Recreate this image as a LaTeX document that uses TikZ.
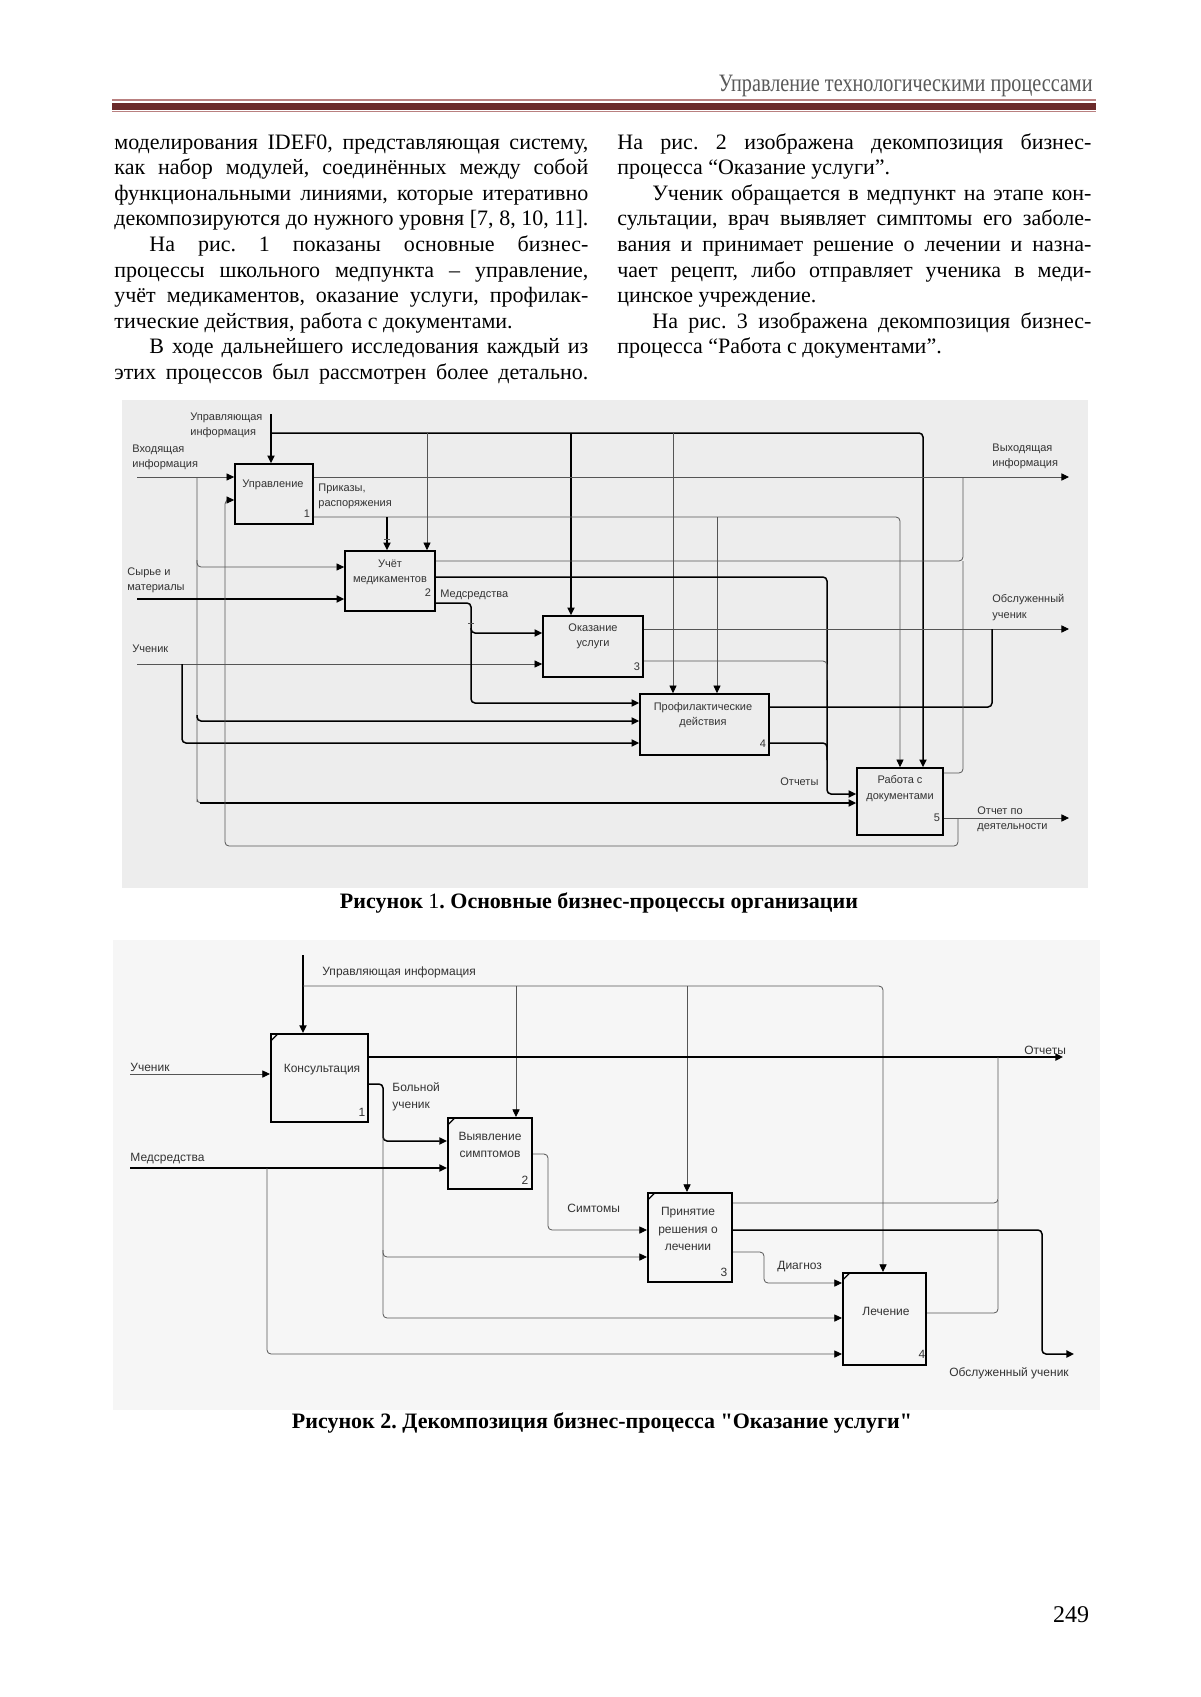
\documentclass[tikz,border=0pt]{standalone}
\usepackage{fontspec}
\usepackage{graphicx}
\setmainfont{Liberation Serif}
\newfontfamily\arialf{Liberation Sans}
\newfontfamily\capserif{Liberation Serif}
\usetikzlibrary{arrows.meta,calc}
\definecolor{maroon}{HTML}{6B2A2A}
\definecolor{maroonl}{HTML}{B98080}
\definecolor{bgone}{HTML}{EDEDED}
\definecolor{bgtwo}{HTML}{F6F6F6}
\definecolor{lngray}{HTML}{555555}
\newcommand\bodyfont{\fontsize{11}{12.8}\selectfont\frenchspacing}
\begin{document}
\frenchspacing
\begin{tikzpicture}[x=0.5pt,y=-0.5pt,
  bodyl/.style={anchor=base west,inner sep=0pt,font=\bodyfont},
  pbox/.style={draw=black,line width=0.9pt,inner sep=0pt},
  flbl/.style={font=\arialf\fontsize{5.5}{7.6}\selectfont,inner sep=0pt,align=left,text=black!80,anchor=west},
  clbl/.style={font=\arialf\fontsize{5.5}{7.6}\selectfont,inner sep=0pt,align=center,text=black!80},
  slbl/.style={font=\arialf\fontsize{6}{8.6}\selectfont,inner sep=0pt,align=left,text=black!80,anchor=west},
  sclbl/.style={font=\arialf\fontsize{6}{8.6}\selectfont,inner sep=0pt,align=center,text=black!80},
  tk/.style={draw=black,line width=0.75pt,rounded corners=2pt},
  tn/.style={draw=lngray,line width=0.4pt,rounded corners=2pt},
  arr/.style={-{Triangle[length=3.8pt,width=3.6pt,color=black]}},
]
\useasboundingbox (0,0) rectangle (1200,1697);
\fill[white] (0,0) rectangle (1200,1697);

% ---------- header ----------
\node[anchor=base east,inner sep=0pt,text=black!65] (hdr) at (1093,91)
  {\resizebox{187pt}{\height}{\fontsize{12.5}{13}\selectfont Управление технологическими процессами}};
\draw[maroonl,line width=0.7pt] (112,100) -- (1096,100);
\fill[maroon] (112,103) rectangle (1096,110);
\draw[maroonl,line width=0.4pt] (112,111.5) -- (1096,111.5);

% ---------- body text, left column ----------
\node[bodyl] (l1) at (114,149.0) {\makebox[237pt][s]{моделирования IDEF0, представляющая систему,}};
\node[bodyl] (l2) at (114,174.6) {\makebox[237pt][s]{как набор модулей, соединённых между собой}};
\node[bodyl] (l3) at (114,200.2) {\makebox[237pt][s]{функциональными линиями, которые итеративно}};
\node[bodyl] (l4) at (114,225.8) {\makebox[237pt][s]{декомпозируются до нужного уровня [7, 8, 10, 11].}};
\node[bodyl] (l5) at (149,251.4) {\makebox[219.5pt][s]{На рис. 1 показаны основные бизнес-}};
\node[bodyl] (l6) at (114,277.0) {\makebox[237pt][s]{процессы школьного медпункта – управление,}};
\node[bodyl] (l7) at (114,302.6) {\makebox[237pt][s]{учёт медикаментов, оказание услуги, профилак-}};
\node[bodyl] (l8) at (114,328.2) {тические действия, работа с документами.};
\node[bodyl] (l9) at (149,353.8) {\makebox[219.5pt][s]{В ходе дальнейшего исследования каждый из}};
\node[bodyl] (l10) at (114,379.4) {\makebox[237pt][s]{этих процессов был рассмотрен более детально.}};

% ---------- body text, right column ----------
\node[bodyl] (r1) at (617,149.0) {\makebox[237pt][s]{На рис. 2 изображена декомпозиция бизнес-}};
\node[bodyl] (r2) at (617,174.6) {процесса “Оказание услуги”.};
\node[bodyl] (r3) at (652,200.2) {\makebox[219.5pt][s]{Ученик обращается в медпункт на этапе кон-}};
\node[bodyl] (r4) at (617,225.8) {\makebox[237pt][s]{сультации, врач выявляет симптомы его заболе-}};
\node[bodyl] (r5) at (617,251.4) {\makebox[237pt][s]{вания и принимает решение о лечении и назна-}};
\node[bodyl] (r6) at (617,277.0) {\makebox[237pt][s]{чает рецепт, либо отправляет ученика в меди-}};
\node[bodyl] (r7) at (617,302.6) {цинское учреждение.};
\node[bodyl] (r8) at (652,328.2) {\makebox[219.5pt][s]{На рис. 3 изображена декомпозиция бизнес-}};
\node[bodyl] (r9) at (617,353.8) {процесса “Работа с документами”.};

% =================== FIGURE 1 ===================
\fill[bgone] (122,400) rectangle (1088,888);

\node[pbox,minimum width=39pt,minimum height=30pt] (b1) at (274,494) {};
\node[pbox,minimum width=45pt,minimum height=30pt] (b2) at (390,581) {};
\node[pbox,minimum width=50pt,minimum height=30.5pt] (b3) at (593,646.5) {};
\node[pbox,minimum width=64.5pt,minimum height=30.5pt] (b4) at (704.5,724.5) {};
\node[pbox,minimum width=43pt,minimum height=33.5pt] (b5) at (900,801.5) {};

\node[clbl] (b1t) at (273,485) {Управление};
\node[clbl] (b2t) at (390,572) {Учёт\\медикаментов};
\node[clbl] (b3t) at (593,636.5) {Оказание\\услуги};
\node[clbl] (b4t) at (703,715) {Профилактические\\действия};
\node[clbl] (b5t) at (900,788.5) {Работа с\\документами};
\node[clbl] (b1n) at (307,514) {1};
\node[clbl] (b2n) at (428,593) {2};
\node[clbl] (b3n) at (637,667) {3};
\node[clbl] (b4n) at (763,744) {4};
\node[clbl] (b5n) at (937,818) {5};

\node[flbl] (f1ui) at (190,425.5) {Управляющая\\информация};
\node[flbl] (f1vi) at (132,457) {Входящая\\информация};
\node[flbl] (f1sm) at (127,580.5) {Сырье и\\материалы};
\node[flbl] (f1uc) at (132,649) {Ученик};
\node[flbl] (f1pr) at (318,496) {Приказы,\\распоряжения};
\node[flbl] (f1md) at (440,595) {Медсредства};
\node[flbl] (f1ot) at (780,782) {Отчеты};
\node[flbl] (f1o1) at (992,456) {Выходящая\\информация};
\node[flbl] (f1o2) at (992,607.5) {Обслуженный\\ученик};
\node[flbl] (f1o3) at (977,819.5) {Отчет по\\деятельности};

\coordinate (ui) at (271,414);
\coordinate (vi) at (137,477);
\coordinate (sm) at (137,599);
\coordinate (uc) at (137,664);
\coordinate (o1) at (1069,477);
\coordinate (o2) at (1069,629);
\coordinate (o3) at (1069,818);

% controls
\draw[tk,arr] (ui) -- (ui |- b1.north);
\draw[tk,arr] (271,433) -| (923,0 |- b5.north);
\draw[tn,arr] (427,433) -- (427,0 |- b2.north);
\draw[tk,arr] (571,433) -- (571,0 |- b3.north);
\draw[tn,arr] (673,433) -- (673,0 |- b4.north);
% inputs
\draw[tn,arr] (vi) -- (vi -| b1.west);
\draw[tn] (197,477) -- (197,798) -- (197,803) -- (205,803);
\draw[tn,arr] (197,560) |- (b2.west |- 0,567);
\draw[tk,arr] (197,715) |- (b4.west |- 0,721);
\draw[tk,arr] (200,803) -- (b5.west |- 0,803);
\draw[tk,arr] (sm) -- (sm -| b2.west);
\draw[tn,arr] (uc) -- (uc -| b3.west);
\draw[tk,arr] (182,664) |- (b4.west |- 0,743);
% outputs of 1
\draw[tn,arr] (b1.east |- 0,477) -- (o1);
\draw[tn,arr] (b1.east |- 0,517) -| (900,0 |- b5.north);
\draw[tk,arr] (387,517) -- (387,0 |- b2.north);
\draw[tn] (384,539) -- (390,539);
\draw[tn,arr] (717,517) -- (717,0 |- b4.north);
% feedback
\draw[tn,arr] (958,818) |- (225,846) |- (b1.west |- 0,500);
% outputs of 2
\draw[tn] (b2.east |- 0,561) -| (963,477);
\draw[tk,arr] (b2.east |- 0,577) -| (827,794) -- (b5.west |- 0,794);
\draw[tk,arr] (b2.east |- 0,603) -| (471,633) -- (b3.west |- 0,633);
\draw[tk,arr] (471,628) |- (b4.west |- 0,703);
\draw[tn] (468,623) -- (474,623);
% outputs of 3
\draw[tn,arr] (b3.east |- 0,629) -- (o2);
\draw[tn] (b3.east |- 0,661) -| (827,680);
% outputs of 4
\draw[tk] (b4.east |- 0,707) -| (992,629);
\draw[tk] (b4.east |- 0,743) -| (827,760);
% outputs of 5
\draw[tn] (b5.east |- 0,773) -| (963,561);
\draw[tn,arr] (b5.east |- 0,818) -- (o3);

\node[anchor=base,inner sep=0pt,font=\bfseries\fontsize{11}{13}\selectfont] (cap1) at (599,908)
  {Рисунок \textmd{1}. Основные бизнес-процессы организации};

% =================== FIGURE 2 ===================
\fill[bgtwo] (113,940) rectangle (1100,1410);

\node[pbox,line width=1.1pt,minimum width=48.5pt,minimum height=44pt] (c1) at (319.5,1078) {};
\node[pbox,line width=1.1pt,minimum width=42pt,minimum height=35.5pt] (c2) at (490,1153.5) {};
\node[pbox,line width=1.1pt,minimum width=42pt,minimum height=44.5pt] (c3) at (690,1237.5) {};
\node[pbox,line width=1.1pt,minimum width=41.5pt,minimum height=46pt] (c4) at (884.5,1319) {};
\foreach \b in {c1,c2,c3,c4}
  \draw[line width=0.6pt] ([shift={(1,8)}]\b.north west) -- ([shift={(8,1)}]\b.north west);

\node[sclbl] (c1t) at (322,1070) {Консультация};
\node[sclbl] (c2t) at (490,1145) {Выявление\\симптомов};
\node[sclbl] (c3t) at (688,1229) {Принятие\\решения о\\лечении};
\node[sclbl] (c4t) at (886,1311) {Лечение};
\node[sclbl] (c1n) at (362,1112) {1};
\node[sclbl] (c2n) at (525,1180) {2};
\node[sclbl] (c3n) at (724,1272) {3};
\node[sclbl] (c4n) at (922,1354) {4};

\node[slbl] (f2ui) at (322,972) {Управляющая информация};
\node[slbl] (f2uc) at (130,1067) {Ученик};
\node[slbl] (f2md) at (130,1159) {Медсредства};
\node[slbl] (f2bu) at (392,1097) {Больной\\ученик};
\node[slbl] (f2sy) at (567,1208) {Симтомы};
\node[slbl] (f2dg) at (777,1267) {Диагноз};
\node[slbl] (f2ot) at (1024,1050) {Отчеты};
\node[slbl] (f2ou) at (949,1373) {Обслуженный ученик};

\coordinate (ui2) at (303,955);
\coordinate (uc2) at (130,1074);
\coordinate (md2) at (130,1168);
\coordinate (ot2) at (1063,1057);
\coordinate (ou2) at (1074,1354);

\draw[tk,arr] (ui2) -- (ui2 |- c1.north);
\draw[tn,arr] (303,986) -| (883,0 |- c4.north);
\draw[tn,arr] (516,986) -- (516,0 |- c2.north);
\draw[tn,arr] (687,986) -- (687,0 |- c3.north);
\draw[tn,arr] (uc2) -- (uc2 -| c1.west);
\draw[tk,arr] (c1.east |- 0,1057) -- (ot2);
\draw[tk,arr] (c1.east |- 0,1084) -| (383,1141) -- (c2.west |- 0,1141);
\draw[tn,arr] (383,1130) |- (c3.west |- 0,1257);
\draw[tn,arr] (383,1250) |- (c4.west |- 0,1318);
\draw[tk,arr] (md2) -- (md2 -| c2.west);
\draw[tn,arr] (267,1168) |- (c4.west |- 0,1354);
\draw[tn,arr] (c2.east |- 0,1154) -| (548,1230) -- (c3.west |- 0,1230);
\draw[tn] (c3.east |- 0,1203) -| (998,1057);
\draw[tk,arr] (c3.east |- 0,1230) -| (1042,1354) -- (ou2);
\draw[tn,arr] (c3.east |- 0,1252) -| (764,1283) -- (c4.west |- 0,1283);
\draw[tn] (c4.east |- 0,1313) -| (998,1200);

\node[anchor=base,inner sep=0pt,font=\capserif\bfseries\fontsize{11}{13}\selectfont] (cap2) at (602,1428)
  {Рисунок 2. Декомпозиция бизнес-процесса "Оказание услуги"};

\node[anchor=base,inner sep=0pt,font=\fontsize{12}{14}\selectfont] (pg) at (1071,1622) {249};
\end{tikzpicture}
\end{document}
